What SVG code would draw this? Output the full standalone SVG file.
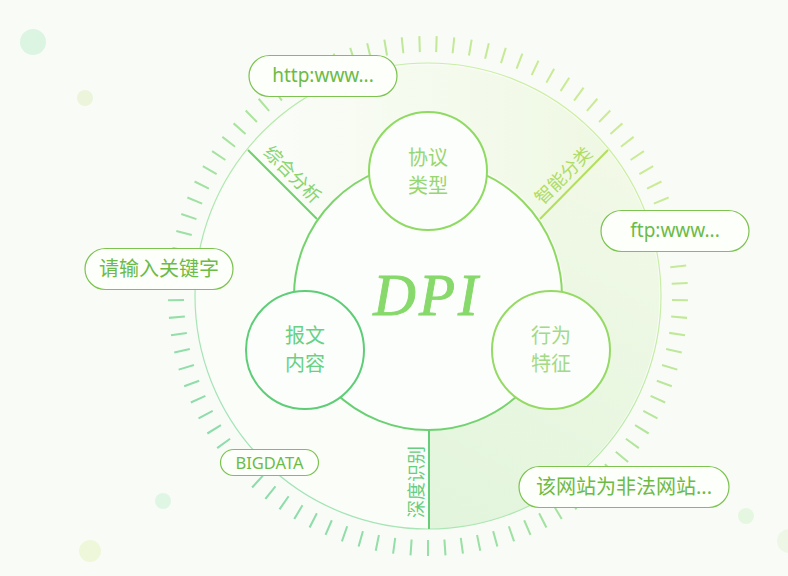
<svg xmlns="http://www.w3.org/2000/svg" width="788" height="576" viewBox="0 0 788 576">
<style>
.pill{fill:#fdfffb;stroke:#7cc350;stroke-width:1.2}
.pt{font-family:"Noto Sans","Noto Sans CJK SC",sans-serif;fill:#6cbb46;text-anchor:middle}
.cjk{font-family:"Noto Sans CJK SC","Noto Sans",sans-serif;text-anchor:middle}
.node{fill:#fcfefb;stroke-width:2}
.seg{font-family:"Noto Sans CJK SC",sans-serif;font-size:18px;text-anchor:middle}
</style>
<defs>
<linearGradient id="tickG" gradientUnits="userSpaceOnUse" x1="650" y1="80" x2="210" y2="500">
<stop offset="0" stop-color="#d2ec94"/><stop offset="0.5" stop-color="#ade49e"/><stop offset="1" stop-color="#88dbae"/>
</linearGradient>
<linearGradient id="ringG" gradientUnits="userSpaceOnUse" x1="650" y1="80" x2="210" y2="500">
<stop offset="0" stop-color="#d4f0a0"/><stop offset="1" stop-color="#9de2bb"/>
</linearGradient>
<linearGradient id="topG" gradientUnits="userSpaceOnUse" x1="250" y1="150" x2="610" y2="150">
<stop offset="0" stop-color="#fbfdf9"/><stop offset="1" stop-color="#eff8e3"/>
</linearGradient>
<linearGradient id="rightG" gradientUnits="userSpaceOnUse" x1="620" y1="160" x2="430" y2="529">
<stop offset="0" stop-color="#f2f9e7"/><stop offset="1" stop-color="#e2f5dc"/>
</linearGradient>
<linearGradient id="dpiG" gradientUnits="userSpaceOnUse" x1="300" y1="430" x2="560" y2="170">
<stop offset="0" stop-color="#60ce78"/><stop offset="1" stop-color="#98db5e"/>
</linearGradient>
</defs>
<rect width="788" height="576" fill="#f9fcf6"/>
<g id="decor">
<circle cx="33" cy="42" r="13" fill="#dcf4e2"/>
<circle cx="85" cy="98" r="8" fill="#edf4dc"/>
<circle cx="163" cy="501" r="8" fill="#e0f6e4"/>
<circle cx="90" cy="551" r="11" fill="#eff7da"/>
<circle cx="746" cy="516" r="8" fill="#e5f7e0"/>
<circle cx="789" cy="541" r="12" fill="#eef7e6"/>
</g>
<g id="ticks">
<circle cx="428" cy="296" r="252" fill="none" stroke="url(#tickG)" stroke-width="16" pathLength="93" stroke-dasharray="0.12 0.88" stroke-dashoffset="-0.19"/>
</g>
<g id="ring">
<path d="M248,150 A233,233 0 0 0 428,529 L428,430 A134,134 0 0 1 317,219 Z" fill="#fbfdf9"/>
<path d="M248,150 A233,233 0 0 1 608,150 L540,219 A134,134 0 0 0 317,219 Z" fill="url(#topG)"/>
<path d="M608,150 A233,233 0 0 1 428,529 L428,430 A134,134 0 0 0 540,219 Z" fill="url(#rightG)"/>
<circle cx="428" cy="296" r="233" fill="none" stroke="url(#ringG)" stroke-width="1.2"/>
</g>
<g id="connectors">
<line x1="248" y1="150" x2="317" y2="219" stroke="#72cf6e" stroke-width="2"/>
<line x1="540" y1="219" x2="608" y2="150" stroke="#b4df5a" stroke-width="2"/>
<line x1="429" y1="430" x2="429" y2="529" stroke="#68cd7a" stroke-width="2"/>
<text class="seg" fill="#88d46e" transform="translate(288,179) rotate(45)">综合分析</text>
<text class="seg" fill="#b0dc60" transform="translate(568,180) rotate(-45)">智能分类</text>
<text class="seg" fill="#68cd80" transform="translate(423,482) rotate(-90)">深度识别</text>
</g>
<g id="dpi">
<circle cx="428" cy="296" r="134" fill="#fcfefb" stroke="url(#dpiG)" stroke-width="2"/>
<text x="427" y="315" font-family="Liberation Serif,serif" font-style="italic" font-size="59" letter-spacing="3" fill="#86d96a" stroke="#86d96a" stroke-width="0.9" text-anchor="middle">DPI</text>
</g>
<g id="node-protocol">
<circle class="node" cx="428" cy="171" r="59" stroke="#8fda62"/>
<text class="cjk" x="428" y="165" font-size="20" fill="#98d672">协议</text>
<text class="cjk" x="428" y="193" font-size="20" fill="#98d672">类型</text>
</g>
<g id="node-content">
<circle class="node" cx="305" cy="350" r="59" stroke="#5ecd78"/>
<text class="cjk" x="305" y="343" font-size="20" fill="#68d184">报文</text>
<text class="cjk" x="305" y="371" font-size="20" fill="#68d184">内容</text>
</g>
<g id="node-behavior">
<circle class="node" cx="551" cy="350" r="59" stroke="#96da66"/>
<text class="cjk" x="551" y="343" font-size="20" fill="#a2da86">行为</text>
<text class="cjk" x="551" y="371" font-size="20" fill="#a2da86">特征</text>
</g>
<g id="pill-http">
<rect class="pill" x="249" y="55.5" width="148" height="41" rx="20.5"/>
<text class="pt" x="323" y="82" font-size="19">http:www...</text>
</g>
<g id="pill-ftp">
<rect class="pill" x="601" y="210.5" width="148" height="41" rx="20.5"/>
<text class="pt" x="675" y="237" font-size="19">ftp:www...</text>
</g>
<g id="pill-keyword">
<rect class="pill" x="85" y="248.5" width="148" height="41" rx="20.5"/>
<text class="pt" x="159" y="276" font-size="20">请输入关键字</text>
</g>
<g id="pill-bigdata">
<rect class="pill" x="220.5" y="449.5" width="98" height="26" rx="13"/>
<text class="pt" x="269.5" y="469" font-size="16.5">BIGDATA</text>
</g>
<g id="pill-illegal">
<rect class="pill" x="519" y="466.5" width="210" height="41" rx="20.5"/>
<text class="pt" x="624" y="494" font-size="20">该网站为非法网站...</text>
</g>
</svg>
